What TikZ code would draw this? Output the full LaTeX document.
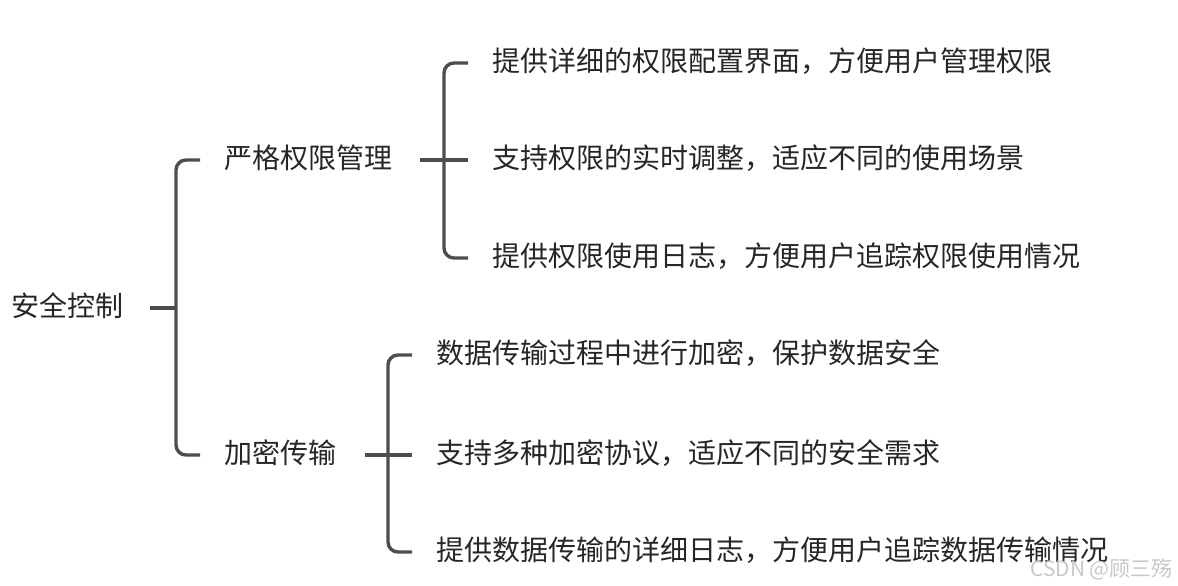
\documentclass[tikz,border=0pt]{standalone}
\usepackage{fontspec}
\setmainfont{Noto Sans CJK SC}
\definecolor{linec}{HTML}{4D4D4D}
\definecolor{textc}{HTML}{262626}
\definecolor{wmc}{HTML}{C8C8C8}
\begin{document}
\begin{tikzpicture}[x=1pt,y=-1pt,
  txt/.style={anchor=west,inner sep=0pt,text=textc,font=\fontsize{28}{28}\selectfont,text height=1.75em,text depth=0pt},
  conn/.style={draw=linec,line width=3.4pt,rounded corners=10pt,line cap=butt}]
\useasboundingbox (0,0) rectangle (1178,586);
\node[txt] (root) at (11,308) {安全控制};
\node[txt] (c1) at (224,160) {严格权限管理};
\node[txt] (c2) at (224,455) {加密传输};
\node[txt] (a1) at (492,63) {提供详细的权限配置界面，方便用户管理权限};
\node[txt] (a2) at (492,160) {支持权限的实时调整，适应不同的使用场景};
\node[txt] (a3) at (492,258) {提供权限使用日志，方便用户追踪权限使用情况};
\node[txt] (b1) at (436,355) {数据传输过程中进行加密，保护数据安全};
\node[txt] (b2) at (436,455) {支持多种加密协议，适应不同的安全需求};
\node[txt] (b3) at (436,552) {提供数据传输的详细日志，方便用户追踪数据传输情况};
% root bracket
\draw[conn] ([xshift=27pt]root.east) -- ([xshift=-48pt]root.east -| c1.west);
\draw[conn] ([xshift=-24pt]c1.west) -- ([xshift=-48pt]c1.west) -- ([xshift=-48pt]c2.west) -- ([xshift=-24pt]c2.west);
% c1 bracket
\draw[conn] ([xshift=28pt]c1.east) -- ([xshift=-24pt]a2.west);
\draw[conn] ([xshift=-24pt]a1.west) -- ([xshift=-48pt]a1.west) -- ([xshift=-48pt]a3.west) -- ([xshift=-24pt]a3.west);
% c2 bracket
\draw[conn] ([xshift=29pt]c2.east) -- ([xshift=-24pt]b2.west);
\draw[conn] ([xshift=-24pt]b1.west) -- ([xshift=-48pt]b1.west) -- ([xshift=-48pt]b3.west) -- ([xshift=-24pt]b3.west);
% watermark
\node[anchor=east,inner sep=0pt,text=wmc,font=\fontsize{21}{21}\selectfont] (wm) at (1173,569) {CSDN @顾三殇};
\end{tikzpicture}
\end{document}
